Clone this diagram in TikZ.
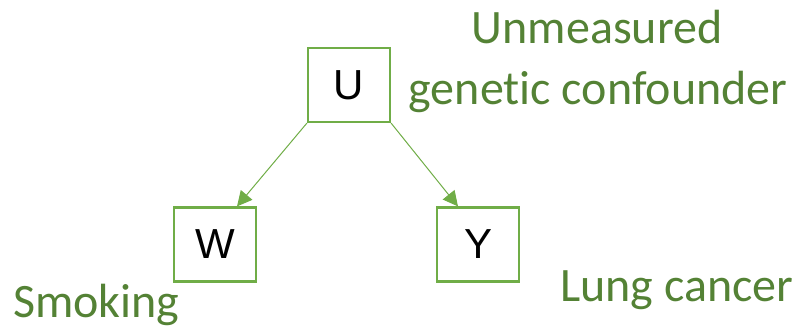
\documentclass[tikz,border=0pt]{standalone}
\usepackage{fontspec}
\setmainfont{Carlito}[Ligatures=CommonOff]
\newfontfamily\boxfont{Liberation Sans}
\usetikzlibrary{arrows.meta}
\definecolor{boxgreen}{HTML}{70AD47}
\definecolor{txtgreen}{HTML}{548235}
\tikzset{
  vbox/.style={draw=boxgreen, line width=2.2pt, minimum width=82pt, minimum height=74pt, inner sep=0pt, font=\boxfont\fontsize{42}{50}\selectfont},
  lbl/.style={text=txtgreen, font=\fontsize{48}{58}\selectfont, inner sep=0pt},
  arr/.style={draw=boxgreen, line width=1pt, -{Triangle[length=15pt,width=15pt]}}
}
\begin{document}
\begin{tikzpicture}[x=1pt,y=-1pt]
\useasboundingbox (0,0) rectangle (797,325);
\node[vbox] (U) at (349,85) {U};
\node[vbox] (W) at (215,244.5) {W};
\node[vbox] (Y) at (478,244.5) {Y};
\coordinate (ul) at (U.south west);
\coordinate (ur) at (U.south east);
\draw[arr] (ul) -- (W.north east -| 237,0) ;
\draw[arr] (ur) -- (Y.north west -| 458,0);
\node[lbl, anchor=base] (t1) at (597,43) {Unmeasured};
\node[lbl, anchor=base] (t2) at (598,104) {genetic confounder};
\node[lbl, anchor=base west] (t3) at (560,301) {Lung cancer};
\node[lbl, anchor=base west] (t4) at (13,317) {Smoking};
\end{tikzpicture}
\end{document}
